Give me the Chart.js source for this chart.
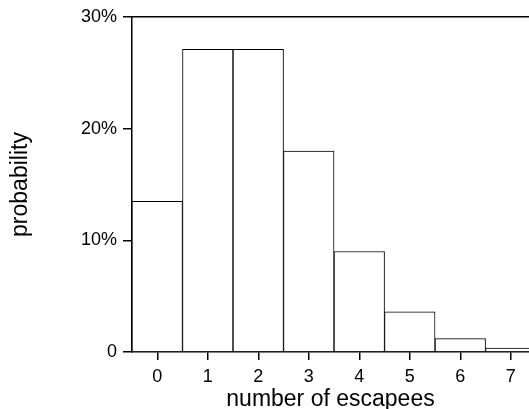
<!DOCTYPE html>
<html>
<head>
<meta charset="utf-8">
<script src="https://cdn.jsdelivr.net/npm/chart.js@4"></script>
<style>
  html, body { margin: 0; padding: 0; background: #fff; }
  #wrap { width: 529px; height: 409px; }
</style>
</head>
<body>
<div id="wrap"><canvas id="chart" width="529" height="409"></canvas></div>
<script>
// number of escapees and their probability
const escapees = [0, 1, 2, 3, 4, 5, 6, 7];
const probability = [0.135, 0.271, 0.271, 0.18, 0.09, 0.036, 0.012, 0.0035];
const yTicks = [0, 0.1, 0.2, 0.3];
const yTickLabels = ["0", "10%", "20%", "30%"];

const family = "'Liberation Sans', Arial, sans-serif";
const tickFont = { family: family, size: 18 };
const titleFont = { family: family, size: 23, lineHeight: 1 };

const points = escapees.map((x, i) => ({ x: x, y: probability[i] }));

new Chart(document.getElementById("chart"), {
  type: "bar",
  data: {
    datasets: [
      {
        data: points,
        backgroundColor: "#ffffff",
        borderColor: "#000000",
        borderWidth: 1,
        barPercentage: 1,
        categoryPercentage: 1,
      },
    ],
  },
  options: {
    responsive: false,
    animation: false,
    layout: { padding: 0 },
    plugins: { legend: { display: false }, tooltip: { enabled: false } },
    scales: {
      x: {
        type: "linear",
        position: "bottom",
        min: -0.5,
        max: 7.36,
        offset: false,
        afterBuildTicks: (s) => {
          s.ticks = escapees.map((v) => ({ value: v }));
        },
        afterFit: (s) => {
          s.height = 57;
        },
        ticks: {
          color: "#000",
          font: tickFont,
          padding: 6,
          maxRotation: 0,
          callback: (v) => String(v),
        },
        grid: {
          offset: false,
          drawOnChartArea: false,
          color: "#000",
          lineWidth: 1.5,
          tickLength: 8,
        },
        border: { color: "#000", width: 1.5 },
        title: {
          display: true,
          text: "number of escapees",
          color: "#000",
          font: titleFont,
          padding: { top: 0, bottom: -2 },
        },
      },
      x2: {
        type: "linear",
        position: "top",
        min: -0.5,
        max: 7.36,
        afterFit: (s) => {
          s.height = 17;
        },
        ticks: { display: false },
        grid: { drawOnChartArea: false, drawTicks: false, color: "#000" },
        border: { color: "#000", width: 1.5 },
      },
      y: {
        min: 0,
        max: 0.3,
        afterBuildTicks: (s) => {
          s.ticks = yTicks.map((v) => ({ value: v }));
        },
        afterFit: (s) => {
          s.width = 132;
        },
        ticks: {
          color: "#000",
          font: tickFont,
          padding: 6,
          callback: (v) => yTickLabels[yTicks.indexOf(v)],
        },
        grid: {
          drawOnChartArea: false,
          color: "#000",
          lineWidth: 1.5,
          tickLength: 9,
        },
        border: { color: "#000", width: 1.5 },
        title: {
          display: true,
          text: "probability",
          color: "#000",
          font: titleFont,
          padding: { top: 9, bottom: 0 },
        },
      },
    },
  },
});
</script>
</body>
</html>
